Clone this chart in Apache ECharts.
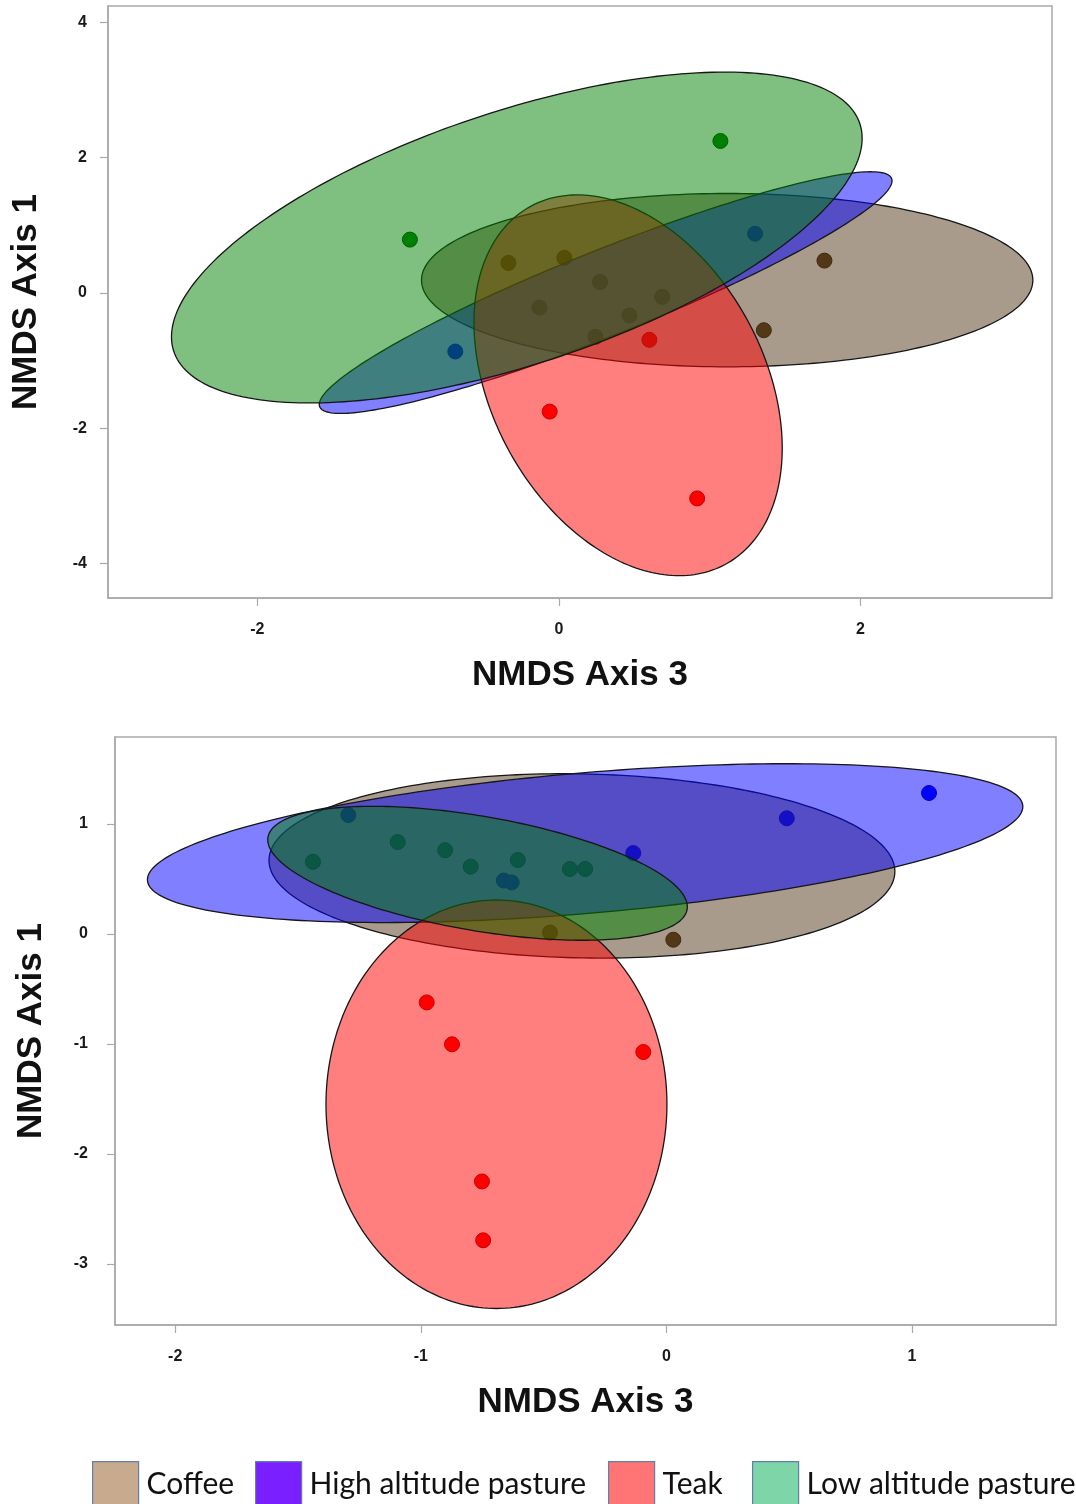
<!DOCTYPE html>
<html>
<head>
<meta charset="utf-8">
<script src="https://cdn.jsdelivr.net/npm/echarts@6/dist/echarts.min.js"></script>
<style>
  html, body { margin: 0; padding: 0; background: #ffffff; }
  #chart { width: 1076px; height: 1504px; }
</style>
</head>
<body>
<div id="chart"></div>
<script>
// Land-use groups, in drawing / legend order
const groups = ['Coffee', 'High altitude pasture', 'Teak', 'Low altitude pasture'];

// Upper panel: site scores on NMDS axis 3 (x) and NMDS axis 1 (y)
const upperCoffee = [[1.761, 0.477], [1.359, -0.552], [-0.335, 0.443], [0.036, 0.517], [0.273, 0.162],
                     [-0.129, -0.217], [0.468, -0.335], [0.685, -0.059], [0.242, -0.650]];
const upperHigh   = [[1.301, 0.874], [-0.687, -0.867]];
const upperTeak   = [[0.600, -0.694], [-0.061, -1.755], [0.917, -3.038]];
const upperLow    = [[-0.988, 0.787], [1.071, 2.245]];
// group ellipses: centre x, centre y, half-width, half-height, correlation
const upperEllipses = [
  [1.116, 0.188, 2.027, 1.281, 0.00],
  [0.310, 0.004, 1.899, 1.786, 0.925],
  [0.459, -1.366, 1.022, 2.814, -0.33],
  [-0.279, 0.818, 2.290, 2.445, 0.60]
];
const upperXTicks = [-2, 0, 2];
const upperYTicks = [-4, -2, 0, 2, 4];

// Lower panel
const lowerCoffee = [[-0.474, 0.013], [0.028, -0.052]];
const lowerHigh   = [[1.069, 1.282], [0.490, 1.052], [-0.135, 0.736], [-1.295, 1.082], [-0.662, 0.486], [-0.630, 0.469]];
const lowerTeak   = [[-0.976, -0.622], [-0.873, -1.003], [-0.751, -2.250], [-0.746, -2.785], [-0.094, -1.073]];
const lowerLow    = [[-1.439, 0.656], [-1.094, 0.836], [-0.901, 0.762], [-0.797, 0.612], [-0.605, 0.673],
                     [-0.393, 0.591], [-0.331, 0.591]];
const lowerEllipses = [
  [-0.344, 0.619, 1.274, 0.838, -0.06],
  [-0.331, 0.826, 1.782, 0.722, 0.46],
  [-0.692, -1.548, 0.694, 1.857, 0.00],
  [-0.769, 0.552, 0.854, 0.609, -0.50]
];
const lowerXTicks = [-2, -1, 0, 1];
const lowerYTicks = [-3, -2, -1, 0, 1];

// Styling
const pointColors   = ['#553816', '#0000ff', '#ff0000', '#008000'];
const pointBorders  = ['#2a1a08', '#00008c', '#8c0000', '#004000'];
const ellipseFills  = ['rgba(81,55,25,0.5)', 'rgba(0,0,255,0.5)', 'rgba(255,0,0,0.5)', 'rgba(0,128,0,0.5)'];
const legendColors  = ['#c8aa8e', '#7a1fff', '#ff7575', '#7dd5a8'];
const legendLefts   = [92, 255, 608, 752];
const frameColor = '#a9a9a9';
const tickFont = { fontFamily: 'Liberation Sans, Arial, sans-serif', fontWeight: 'bold', fontSize: 16, color: '#1a1a1a' };
const titleFont = { fontFamily: 'Liberation Sans, Arial, sans-serif', fontWeight: 'bold', fontSize: 35, color: '#111111' };

// Draws a confidence-style ellipse through the axis scales
function ellipseRenderer(fill) {
  return function (params, api) {
    const cx = api.value(0), cy = api.value(1), hx = api.value(2), hy = api.value(3), r = api.value(4);
    const s = Math.sqrt(1 - r * r);
    const pts = [];
    const n = 240;
    for (let i = 0; i < n; i++) {
      const t = (i / n) * Math.PI * 2;
      pts.push(api.coord([cx + hx * Math.cos(t), cy + hy * (r * Math.cos(t) + s * Math.sin(t))]));
    }
    return {
      type: 'polygon',
      shape: { points: pts },
      style: { fill: fill, stroke: '#161616', lineWidth: 1.3 }
    };
  };
}

function valueAxis(gridIndex, min, max, ticks, name, margin, nameGap) {
  return {
    gridIndex: gridIndex,
    type: 'value',
    min: min,
    max: max,
    name: name,
    nameLocation: 'middle',
    nameGap: nameGap,
    nameTextStyle: titleFont,
    splitLine: { show: false },
    axisLine: { show: true, onZero: false, lineStyle: { color: frameColor, width: 1.5 } },
    axisTick: { show: true, inside: false, length: 8, customValues: ticks, lineStyle: { color: frameColor, width: 1.2 } },
    axisLabel: Object.assign({ customValues: ticks, margin: margin }, tickFont)
  };
}

const pointSets = [
  [upperCoffee, upperHigh, upperTeak, upperLow],
  [lowerCoffee, lowerHigh, lowerTeak, lowerLow]
];
const ellipseSets = [upperEllipses, lowerEllipses];

const series = [];
for (let p = 0; p < 2; p++) {
  groups.forEach(function (g, i) {
    series.push({
      name: g,
      type: 'scatter',
      xAxisIndex: p,
      yAxisIndex: p,
      data: pointSets[p][i],
      symbol: 'circle',
      symbolSize: 15,
      z: 2,
      silent: true,
      emphasis: { disabled: true },
      itemStyle: { color: pointColors[i], borderColor: pointBorders[i], borderWidth: 1, opacity: 1 }
    });
  });
  groups.forEach(function (g, i) {
    series.push({
      name: g,
      type: 'custom',
      xAxisIndex: p,
      yAxisIndex: p,
      data: [ellipseSets[p][i]],
      renderItem: ellipseRenderer(ellipseFills[i]),
      z: 3 + i,
      silent: true,
      clip: true,
      emphasis: { disabled: true }
    });
  });
}

// One legend block per group so each swatch sits at its own position
const legends = groups.map(function (g, i) {
  return {
    left: legendLefts[i],
    top: 1461,
    padding: 0,
    itemWidth: 46,
    itemHeight: 46,
    icon: 'rect',
    selectedMode: false,
    textStyle: { fontFamily: 'Lato, Noto Sans, sans-serif', fontSize: 30, color: '#111111', padding: [0, 0, 0, 3] },
    data: [{ name: g, icon: 'rect', itemStyle: { color: legendColors[i], borderColor: '#5f7fae', borderWidth: 1.2 } }]
  };
});

const chart = echarts.init(document.getElementById('chart'), null, { renderer: 'canvas' });
chart.setOption({
  animation: false,
  backgroundColor: '#ffffff',
  grid: [
    { left: 108, top: 6, width: 944, height: 592, show: true, borderColor: frameColor, borderWidth: 1.5, backgroundColor: 'transparent' },
    { left: 115, top: 737, width: 941, height: 588, show: true, borderColor: frameColor, borderWidth: 1.5, backgroundColor: 'transparent' }
  ],
  xAxis: [
    valueAxis(0, -2.99, 3.27, upperXTicks, 'NMDS Axis 3', 24, 60),
    valueAxis(1, -2.245, 1.586, lowerXTicks, 'NMDS Axis 3', 24, 60)
  ],
  yAxis: [
    valueAxis(0, -4.51, 4.24, upperYTicks, 'NMDS Axis 1', 21, 64),
    valueAxis(1, -3.555, 1.791, lowerYTicks, 'NMDS Axis 1', 27, 66)
  ],
  legend: legends,
  series: series
});
</script>
</body>
</html>
